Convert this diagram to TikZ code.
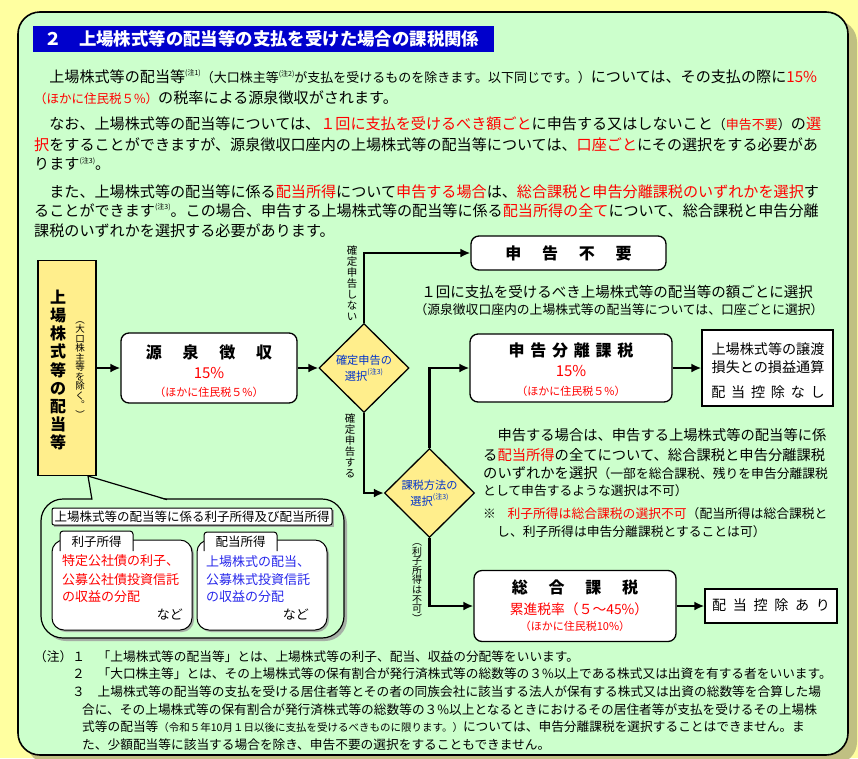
\documentclass[tikz,border=0pt]{standalone}
\usepackage{fontspec}
\setmainfont{Noto Sans CJK JP}
\usepackage{tikz}
\usetikzlibrary{shapes.geometric}
\usetikzlibrary{arrows.meta}
\XeTeXlinebreaklocale "ja"
\XeTeXlinebreakskip=0pt plus 4pt
\definecolor{outer}{RGB}{255,255,160}
\definecolor{panel}{RGB}{204,255,204}
\definecolor{panelshade}{RGB}{192,192,130}
\definecolor{titleblue}{RGB}{0,0,204}
\definecolor{boxyellow}{RGB}{255,238,140}
\definecolor{choiceblue}{RGB}{0,51,204}
\definecolor{haitoblue}{RGB}{40,40,235}
\definecolor{softgray}{RGB}{165,175,165}
\tikzset{>={Latex[length=10pt,width=9pt]}}
\newcommand{\chu}[1]{\raisebox{.45em}{\fontsize{7}{7}\selectfont (注#1)}}
\newcommand{\sz}[2]{{\fontsize{#1}{#1}\selectfont #2}}
\newcommand{\rd}[1]{\textcolor{red}{#1}}
\newcommand{\kgap}[1]{\hspace{#1em}}
\newcommand{\fillto}[2]{\makebox[#1pt][s]{#2}}

\begin{document}
\begin{tikzpicture}[x=1pt, y=-1pt,
    box/.style={draw, line width=1.3, fill=white, rounded corners=8, inner sep=0},
    sqbox/.style={draw, line width=1.3, fill=white, inner sep=0},
    choice/.style={diamond, draw, line width=1.3, fill=boxyellow, inner sep=0, minimum width=90, minimum height=89},
    flow/.style={->, line width=2.3},
    line/.style={inner sep=0, anchor=west, font=\fontsize{15.1}{18}\selectfont},
    blk/.style={inner sep=0, anchor=west, font=\fontsize{14.3}{16}\selectfont},
    note/.style={inner sep=0, anchor=west, font=\fontsize{12.7}{14}\selectfont},
    head/.style={inner sep=0, font=\fontsize{16}{16}\selectfont\bfseries},
    rate/.style={inner sep=0, text=red, font=\fontsize{15}{15}\selectfont},
    sub/.style={inner sep=0, text=red, font=\fontsize{11}{11}\selectfont},
    vlab/.style={inner sep=0, align=center, font=\fontsize{10.5}{11}\selectfont},
    choicetext/.style={inner sep=0, align=center, text=choiceblue, font=\fontsize{11.2}{15.5}\selectfont},
    kind/.style={inner sep=0, anchor=west, font=\fontsize{13}{13}\selectfont}
  ]
  \useasboundingbox (0,0) rectangle (858,758);
  \fill[outer] (0,0) rectangle (858,758);

  % panel
  \fill[panelshade, rounded corners=22] (27,20) rectangle (857,764);
  \draw[line width=1.6, fill=panel, rounded corners=22] (18,12) rectangle (848,755);
  \fill[titleblue] (33,26) rectangle (494,52);
  \node[inner sep=0, anchor=west, text=white, font=\fontsize{17.4}{18}\selectfont\bfseries] (title) at (44,39) {２　上場株式等の配当等の支払を受けた場合の課税関係};

  % paragraphs
  \node[line] (p1a) at (34,77) {\fillto{786}{　上場株式等の配当等\chu{1}\sz{13}{（大口株主等\chu{2}が支払を受けるものを除きます。以下同じです。）}については、その支払の際に\rd{15\%}}};
  \node[line] (p1b) at (34,98) {\rd{\sz{12.5}{（ほかに住民税５\%）}}の税率による源泉徴収がされます。};
  \node[line] (p2a) at (34,124) {\fillto{786}{　なお、上場株式等の配当等については、\rd{１回に支払を受けるべき額ごと}に申告する又はしないこと\sz{13}{（\rd{申告不要}）}の\rd{選}}};
  \node[line] (p2b) at (34,145) {\fillto{786}{\rd{択}をすることができますが、源泉徴収口座内の上場株式等の配当等については、\rd{口座ごと}にその選択をする必要があ}};
  \node[line] (p2c) at (34,164) {ります\chu{3}。};
  \node[line] (p3a) at (34,192) {\fillto{786}{　また、上場株式等の配当等に係る\rd{配当所得}について\rd{申告する場合}は、\rd{総合課税と申告分離課税のいずれかを選択}す}};
  \node[line] (p3b) at (34,211) {\fillto{786}{ることができます\chu{3}。この場合、申告する上場株式等の配当等に係る\rd{配当所得の全て}について、総合課税と申告分離}};
  \node[line] (p3c) at (34,231) {課税のいずれかを選択する必要があります。};

  % flow
  \node[sqbox, fill=boxyellow, minimum width=58, minimum height=215] (haito) at (67,368) {};
  \node[inner sep=0, align=center, font=\fontsize{16}{18.1}\selectfont\bfseries] (haito-a) at (58,370) {上\\場\\株\\式\\等\\の\\配\\当\\等};
  \node[inner sep=0, align=center, font=\fontsize{9.5}{9.5}\selectfont] (haito-b) at (80,370) {︵\\大\\口\\株\\主\\等\\を\\除\\く\\︒\\︶};

  \node[box, minimum width=176, minimum height=70] (gensen) at (209,368) {};
  \node[head] (gensen-a) at (209,352) {源\kgap{1.3}泉\kgap{1.3}徴\kgap{1.3}収};
  \node[rate] (gensen-b) at (209,373) {15\%};
  \node[sub] (gensen-c) at (209,392) {（ほかに住民税５\%）};

  \node[choice] (kakutei) at (364,368) {};
  \node[choicetext] (kakutei-a) at (364,368) {確定申告の\\選択\chu{3}};

  \node[box, minimum width=195, minimum height=34] (fuyou) at (568.5,253) {};
  \node[head] (fuyou-a) at (568.5,253) {申\kgap{1.3}告\kgap{1.3}不\kgap{1.3}要};
  \node[inner sep=0, font=\fontsize{14.5}{15}\selectfont] (fuyou-b) at (617,292) {１回に支払を受けるべき上場株式等の配当等の額ごとに選択};
  \node[inner sep=0, font=\fontsize{12.8}{13}\selectfont] (fuyou-c) at (619,310) {（源泉徴収口座内の上場株式等の配当等については、口座ごとに選択）};

  \node[choice] (kazei) at (429.5,493) {};
  \node[choicetext] (kazei-a) at (429.5,493) {課税方法の\\選択\chu{3}};

  \node[box, minimum width=202, minimum height=68] (bunri) at (571,368) {};
  \node[head] (bunri-a) at (571,350) {申\kgap{.36}告\kgap{.36}分\kgap{.36}離\kgap{.36}課\kgap{.36}税};
  \node[rate] (bunri-b) at (571,371) {15\%};
  \node[sub] (bunri-c) at (571,391) {（ほかに住民税５\%）};

  \node[sqbox, minimum width=131, minimum height=76] (jouto) at (767.5,368) {};
  \node[inner sep=0, align=center, font=\fontsize{14.1}{18}\selectfont] (jouto-a) at (768,358) {上場株式等の譲渡\\損失との損益通算};
  \node[inner sep=0, font=\fontsize{14.1}{15}\selectfont] (jouto-b) at (768,392) {配\kgap{.41}当\kgap{.41}控\kgap{.41}除\kgap{.41}な\kgap{.41}し};

  \node[box, minimum width=202, minimum height=71] (sougou) at (575,606) {};
  \node[head] (sougou-a) at (575,587) {総\kgap{1.3}合\kgap{1.3}課\kgap{1.3}税};
  \node[inner sep=0, text=red, font=\fontsize{13.8}{14}\selectfont] (sougou-b) at (579,609) {累進税率（５～45\%）};
  \node[sub] (sougou-c) at (575,626) {（ほかに住民税10\%）};

  \node[sqbox, minimum width=132, minimum height=34] (ari) at (771,606) {};
  \node[inner sep=0, font=\fontsize{14.1}{15}\selectfont] (ari-a) at (771,605) {配\kgap{.47}当\kgap{.47}控\kgap{.47}除\kgap{.47}あ\kgap{.47}り};

  \draw[flow] (haito) -- (gensen);
  \draw[flow] (gensen) -- (kakutei);
  \draw[flow] (kakutei.north) |- (fuyou.west);
  \draw[flow] (kakutei.south) |- (kazei.west);
  \draw[flow] (kazei.north) |- (bunri.west);
  \draw[flow] (bunri) -- (jouto);
  \draw[flow] (kazei.south) |- (sougou.west);
  \draw[flow] (sougou) -- (ari);

  \node[vlab] (shinai) at (352,283) {確\\定\\申\\告\\し\\な\\い};
  \node[vlab] (suru) at (350,446) {確\\定\\申\\告\\す\\る};
  \node[vlab, font=\fontsize{10}{9.6}\selectfont] (fuka) at (417,583) {︵\\利\\子\\所\\得\\は\\不\\可\\︶};

  % explanation beside the choice
  \node[blk] (ex1) at (483,435) {\fillto{343}{　申告する場合は、申告する上場株式等の配当等に係}};
  \node[blk] (ex2) at (483,455) {\fillto{343}{る\rd{配当所得}の全てについて、総合課税と申告分離課税}};
  \node[blk] (ex3) at (483,473) {\fillto{344}{のいずれかを選択\sz{12.8}{（一部を総合課税、残りを申告分離課税}}};
  \node[blk] (ex4) at (483,491) {\sz{12.8}{として申告するような選択は不可）}};
  \node[blk] (ex5) at (483,514) {\fillto{344}{\sz{12.8}{※\kgap{.9}\rd{利子所得は総合課税の選択不可}（配当所得は総合課税と}}};
  \node[blk] (ex6) at (497,532) {\sz{12.8}{し、利子所得は申告分離課税とすることは可）}};

  % callout
  \coordinate (tip) at (88,476);
  \fill[softgray, rounded corners=22] (44,502) rectangle (347,641);
  \draw[line width=1.2, fill=panel, rounded corners=22] (41,499) rectangle (344,638);
  \fill[panel] (tip) -- (92,500.5) -- (167,500.5) -- cycle;
  \draw[line width=1.2] (92,499.6) -- (tip) -- (167,499.6);

  \fill[softgray] (54,510) rectangle (334,527);
  \draw[line width=1, fill=white, rounded corners=2] (52,508) rectangle (332,525);
  \node[inner sep=0, font=\fontsize{12.5}{13}\selectfont] (shotoku) at (192,516.5) {上場株式等の配当等に係る利子所得及び配当所得};

  \fill[softgray, rounded corners=12] (54,542) rectangle (194,632);
  \draw[line width=1, fill=white, rounded corners=12] (52,540) rectangle (192,630);
  \filldraw[line width=1, fill=white, rounded corners=3] (60,551) -- (60,531) -- (133,531) -- (133,551);
  \node[inner sep=0, font=\fontsize{12.5}{13}\selectfont] (rishi) at (96.5,541.5) {利子所得};
  \node[kind, text=red] (rishi-a) at (62,561) {特定公社債の利子、};
  \node[kind, text=red] (rishi-b) at (62,580) {公募公社債投資信託};
  \node[kind, text=red] (rishi-c) at (62,597) {の収益の分配};
  \node[kind, anchor=east] (rishi-d) at (183,615) {など};

  \fill[softgray, rounded corners=12] (199,542) rectangle (329,632);
  \draw[line width=1, fill=white, rounded corners=12] (197,540) rectangle (327,630);
  \filldraw[line width=1, fill=white, rounded corners=3] (204,551) -- (204,532) -- (277,532) -- (277,551);
  \node[inner sep=0, font=\fontsize{12.5}{13}\selectfont] (haitou) at (240.5,542) {配当所得};
  \node[kind, text=haitoblue] (haitou-a) at (206,562) {上場株式の配当、};
  \node[kind, text=haitoblue] (haitou-b) at (206,580) {公募株式投資信託};
  \node[kind, text=haitoblue] (haitou-c) at (206,597) {の収益の分配};
  \node[kind, anchor=east] (haitou-d) at (309,615) {など};

  % notes
  \node[note] (n1) at (34,657) {（注）１　「上場株式等の配当等」とは、上場株式等の利子、配当、収益の分配等をいいます。};
  \node[note] (n2) at (72,674) {２　「大口株主等」とは、その上場株式等の保有割合が発行済株式等の総数等の３\%以上である株式又は出資を有する者をいいます。};
  \node[note] (n3) at (72,692) {\fillto{751}{３　上場株式等の配当等の支払を受ける居住者等とその者の同族会社に該当する法人が保有する株式又は出資の総数等を合算した場}};
  \node[note] (n4) at (82,710) {\fillto{741}{合に、その上場株式等の保有割合が発行済株式等の総数等の３\%以上となるときにおけるその居住者等が支払を受けるその上場株}};
  \node[note] (n5) at (82,727) {\fillto{741}{式等の配当等\sz{10.5}{（令和５年10月１日以後に支払を受けるべきものに限ります。）}については、申告分離課税を選択することはできません。ま}};
  \node[note] (n6) at (82,745) {た、少額配当等に該当する場合を除き、申告不要の選択をすることもできません。};
\end{tikzpicture}
\end{document}
